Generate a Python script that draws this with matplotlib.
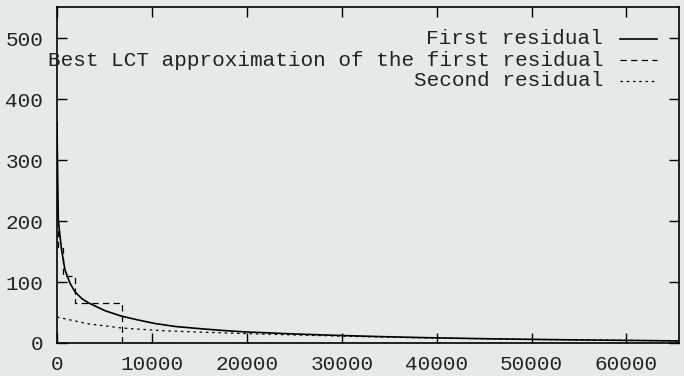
import matplotlib.pyplot as plt

# first residual
first_x = [0, 50, 140, 470, 840, 1370, 1895, 2600, 3300, 5050, 6800, 8560,
           10300, 12500, 15050, 17500, 19790, 25000, 29440, 34000, 39260,
           44000, 49050, 54000, 58900, 65536]
first_y = [360, 300, 201, 154, 120, 98, 84, 73, 66, 53, 44, 37.7,
           32, 27, 23.5, 20.5, 18.2, 14.8, 12.5, 10.5, 8.6,
           7.3, 6.1, 5.2, 4.4, 3.4]

# best LCT approximation: piecewise constant on these intervals
lct_edges = [0, 140, 316, 660, 1895, 6880, 65536]
lct_values = [200, 155, 155, 110, 66, 0]

# second residual
second_x = [0, 3300, 6800, 9790, 11370, 15050, 19790, 25000, 29440, 34000,
            39260, 49050, 58900, 65536]
second_y = [42.5, 31.4, 24.6, 21.5, 20, 17.8, 15.5, 13.2, 11.5, 9.8,
            8.2, 6, 4.6, 3.6]

x_ticks = [0, 10000, 20000, 30000, 40000, 50000, 60000]
y_ticks = [0, 100, 200, 300, 400, 500]

labels = ["First residual", "Best LCT approximation of the first residual",
          "Second residual"]

bg = "#e4ebe7"
mono = "Liberation Mono"
fs = 15.1

fig = plt.figure(figsize=(6.84, 3.76), dpi=100, facecolor=bg)
ax = fig.add_axes([0.0833, 0.0878, 0.9094, 0.8936], facecolor=bg)

solid, = ax.plot(first_x, first_y, color="black", lw=1.2)
dashed, = ax.plot(lct_edges, lct_values + [lct_values[-1]], color="black", lw=0.9,
                  drawstyle="steps-post", dashes=(5, 3.5))
dotted, = ax.plot(second_x, second_y, color="black", lw=0.9, dashes=(2, 3))

ax.set_xlim(0, 65536)
ax.set_ylim(0, 551)
ax.set_xticks(x_ticks)
ax.set_yticks(y_ticks)
ax.set_xticklabels([str(t) for t in x_ticks], fontfamily=mono, fontsize=fs, color="#222222")
ax.set_yticklabels([str(t) for t in y_ticks], fontfamily=mono, fontsize=fs, color="#222222")
ax.tick_params(direction="in", length=7, width=1.0, top=True, right=True,
               color="black")
ax.tick_params(axis="x", pad=9)
ax.tick_params(axis="y", pad=10)
for s in ax.spines.values():
    s.set_linewidth(1.2)
    s.set_color("black")

# key in the upper right: right-aligned titles followed by line samples
rows = [0.905, 0.842, 0.780]
styles = [dict(lw=1.2), dict(lw=0.9, dashes=(5, 3.5)), dict(lw=0.9, dashes=(2, 3))]
for label, y, st in zip(labels, rows, styles):
    ax.text(0.878, y, label, transform=ax.transAxes, ha="right", va="center",
            fontfamily=mono, fontsize=fs, color="#222222", clip_on=False)
    ax.plot([0.905, 0.965], [y, y], transform=ax.transAxes, color="black", **st)

fig.savefig("out.png", dpi=100, facecolor=bg)
